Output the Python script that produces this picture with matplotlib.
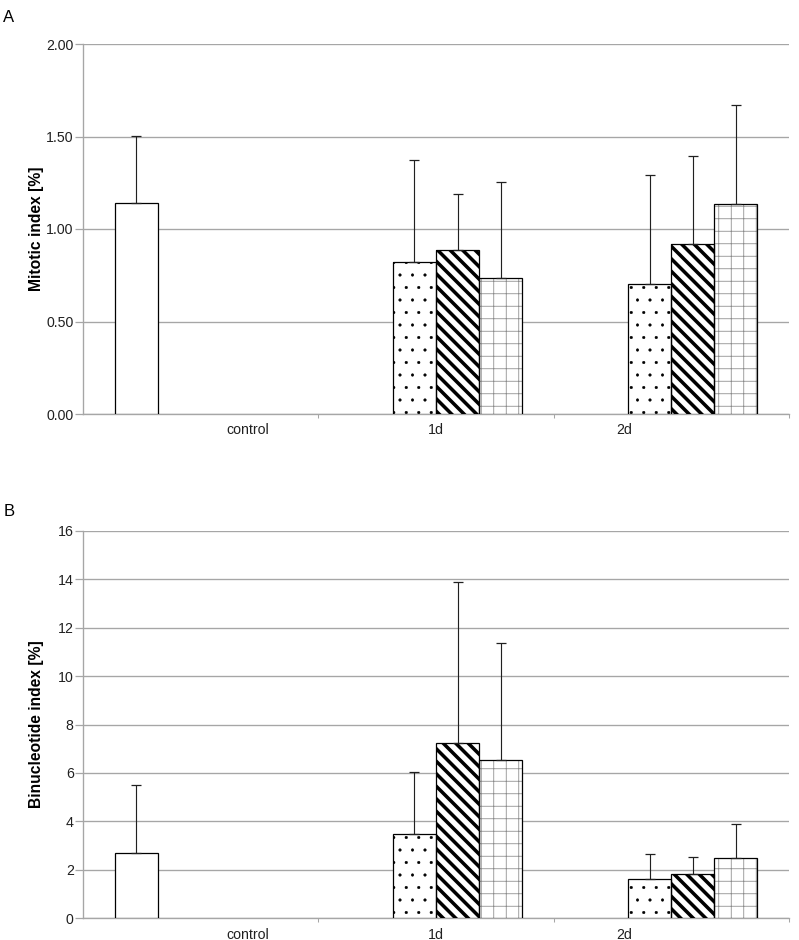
import numpy as np
import matplotlib
matplotlib.use('Agg')
from matplotlib import pyplot as plt

plt.rcParams['font.family'] = ['Liberation Sans', 'DejaVu Sans']

# Category labels and data (means and upper SD)
groups = ['control', '1d', '2d']

mitoticControl = [1.14, np.nan, np.nan]
mitoticDots = [np.nan, 0.82, 0.705]
mitoticStripes = [np.nan, 0.885, 0.92]
mitoticGrid = [np.nan, 0.735, 1.135]
mitoticControlSd = [0.365, 0, 0]
mitoticDotsSd = [0, 0.555, 0.585]
mitoticStripesSd = [0, 0.305, 0.473]
mitoticGridSd = [0, 0.519, 0.537]

binucControl = [2.67, np.nan, np.nan]
binucDots = [np.nan, 3.46, 1.63]
binucStripes = [np.nan, 7.22, 1.81]
binucGrid = [np.nan, 6.53, 2.48]
binucControlSd = [2.83, 0, 0]
binucDotsSd = [0, 2.57, 1.0]
binucStripesSd = [0, 6.67, 0.70]
binucGridSd = [0, 4.86, 1.42]

# dpi 75 so the hatch spacing matches the reference
dpi = 75
fig = plt.figure(figsize=(799 / dpi, 940 / dpi), dpi=dpi)

W, H = 799.0, 940.0
axA = fig.add_axes([83 / W, 1 - 414 / H, (789 - 83) / W, (414 - 44) / H])
axB = fig.add_axes([83 / W, 1 - 918 / H, (789 - 83) / W, (918 - 531) / H])

barWidth = 0.183
gridGray = '#a6a6a6'


def drawBars(ax, x, vals, sds, hatch, hatchColor, hatchLw):
    with plt.rc_context({'hatch.linewidth': hatchLw, 'hatch.color': hatchColor}):
        if hatch:
            bars = ax.bar(x, vals, barWidth, color='white', edgecolor=hatchColor,
                          linewidth=0, hatch=hatch, zorder=3)
            for b in bars:
                if hasattr(b, 'set_hatch_linewidth'):
                    b.set_hatch_linewidth(hatchLw)
    ax.bar(x, vals, barWidth, color='white' if not hatch else 'none',
           edgecolor='black', linewidth=1.2, zorder=4)
    vals = np.array(vals, dtype=float)
    sds = np.array(sds, dtype=float)
    ok = ~np.isnan(vals)
    ax.errorbar(np.array(x)[ok], vals[ok], yerr=[np.zeros(ok.sum()), sds[ok]],
                fmt='none', ecolor='#202020', elinewidth=1.1, capsize=5,
                capthick=1.2, zorder=5)


def drawPanel(ax, series, ymax, ystep, fmt, ylabel, letter, letterY):
    centers = np.arange(len(groups)) + 0.5
    offsets = [-1.5, -0.5, 0.5, 1.5]
    styles = [(None, 'black', 1.0), ('.', 'black', 0.5),
              ('\\\\', 'black', 3.4), ('+', '#8a8a8a', 0.75)]
    for (vals, sds), off, (h, hc, hl) in zip(series, offsets, styles):
        drawBars(ax, centers + off * barWidth, vals, sds, h, hc, hl)

    ax.set_xlim(0, 3)
    ax.set_ylim(0, ymax)
    ticks = np.arange(0, ymax + ystep / 2, ystep)
    ax.set_yticks(ticks)
    ax.set_yticklabels([fmt % t for t in ticks], fontsize=13.5, color='#202020')
    ax.yaxis.grid(True, color=gridGray, linewidth=1.3, zorder=0)
    ax.set_axisbelow(True)
    ax.tick_params(axis='y', length=8, width=1.2, color=gridGray, pad=1)

    ax.set_xticks([1, 2, 3])
    ax.set_xticklabels([])
    ax.tick_params(axis='x', length=4, width=1, color=gridGray, direction='out')
    labelPos = [0.70, 1.50, 2.30]
    for xp, g in zip(labelPos, groups):
        ax.text(xp, -0.043, g, transform=ax.get_xaxis_transform(), ha='center',
                va='center', fontsize=13.5, color='#202020')

    for s in ['top', 'right']:
        ax.spines[s].set_visible(False)
    for s in ['left', 'bottom']:
        ax.spines[s].set_color(gridGray)
        ax.spines[s].set_linewidth(1.3)

    ax.set_ylabel(ylabel, fontsize=15, fontweight='bold', va='center')
    ax.yaxis.set_label_coords((37 - 83) / (789 - 83), 0.5)
    fig.text(9 / W, 1 - letterY / H, letter, fontsize=16, ha='center', va='center')


drawPanel(axA, [(mitoticControl, mitoticControlSd), (mitoticDots, mitoticDotsSd),
                (mitoticStripes, mitoticStripesSd), (mitoticGrid, mitoticGridSd)],
          2.0, 0.5, '%.2f', 'Mitotic index [%]', 'A', 18)
drawPanel(axB, [(binucControl, binucControlSd), (binucDots, binucDotsSd),
                (binucStripes, binucStripesSd), (binucGrid, binucGridSd)],
          16, 2, '%d', 'Binucleotide index [%]', 'B', 511)

fig.savefig('out.png', dpi=dpi)
